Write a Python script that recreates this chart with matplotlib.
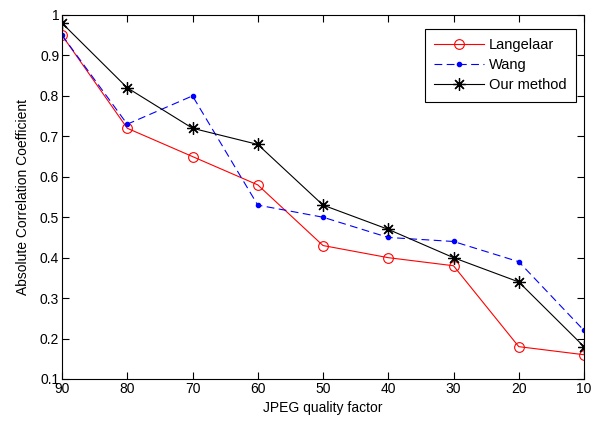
import matplotlib
matplotlib.use("Agg")
import matplotlib.pyplot as plt

quality = [90, 80, 70, 60, 50, 40, 30, 20, 10]
langelaar = [0.95, 0.72, 0.65, 0.58, 0.43, 0.40, 0.38, 0.18, 0.16]
wang = [0.95, 0.73, 0.80, 0.53, 0.50, 0.45, 0.44, 0.39, 0.22]
ours = [0.98, 0.82, 0.72, 0.68, 0.53, 0.47, 0.40, 0.34, 0.18]
yticks = [0.1, 0.2, 0.3, 0.4, 0.5, 0.6, 0.7, 0.8, 0.9, 1]
ytick_labels = ["0.1", "0.2", "0.3", "0.4", "0.5", "0.6", "0.7", "0.8", "0.9", "1"]

plt.rcParams['font.family'] = ['Liberation Sans', 'DejaVu Sans']
plt.rcParams['font.size'] = 10

fig = plt.figure(figsize=(5.92, 4.22), dpi=100)
ax = fig.add_axes([62/592, 1-379/422, 522/592, 364/422])

ax.plot(quality, langelaar, color='red', linestyle='-', linewidth=0.8,
        marker='o', markersize=7, markerfacecolor='none', markeredgecolor='red',
        markeredgewidth=0.8, label='Langelaar')
ax.plot(quality, wang, color='blue', linestyle=(0, (7, 4)), linewidth=0.8,
        marker='.', markersize=6, label='Wang')
ax.plot(quality, ours, color='black', linestyle='-', linewidth=0.8,
        marker=(8, 2, 0), markersize=9, markeredgewidth=0.9, label='Our method')

ax.set_xlim(90, 10)
ax.set_ylim(0.1, 1)
ax.set_xticks(quality)
ax.set_xticklabels([str(q) for q in quality])
ax.set_yticks(yticks)
ax.set_yticklabels(ytick_labels)
ax.tick_params(direction='in', top=True, right=True, length=5, width=0.8, labelsize=10, pad=2)
for s in ax.spines.values():
    s.set_linewidth(0.8)

ax.set_xlabel('JPEG quality factor', fontsize=10, labelpad=4)
ax.set_ylabel('Absolute Correlation Coefficient', fontsize=10, labelpad=7)

leg = ax.legend(loc='upper right', bbox_to_anchor=(1 - 8/522, 1 - 14/364),
                fancybox=False, framealpha=1, edgecolor='black',
                handlelength=3.4, handletextpad=0.35, borderaxespad=0, fontsize=10.5,
                labelspacing=0.4, borderpad=0.65)
leg.get_frame().set_linewidth(0.8)

fig.savefig('out.png', dpi=100)
